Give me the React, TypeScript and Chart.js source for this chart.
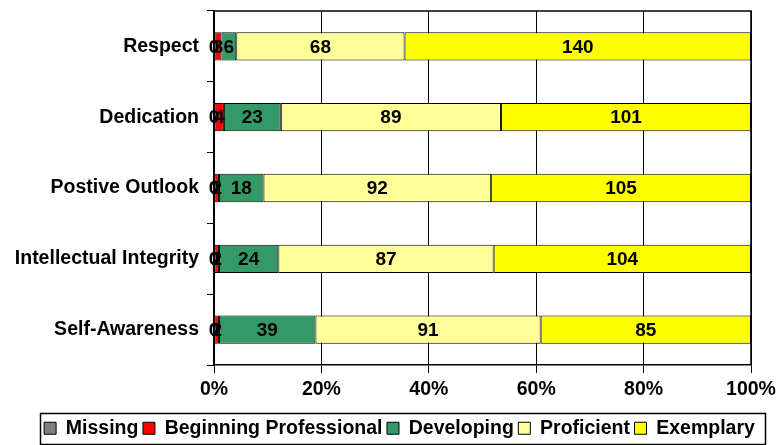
import React, { useEffect, useRef } from "react";
import { Chart, registerables } from "chart.js";

Chart.register(...registerables);

const categories = ["Respect", "Dedication", "Postive Outlook", "Intellectual Integrity", "Self-Awareness"];
const seriesNames = ["Missing", "Beginning Professional", "Developing", "Proficient", "Exemplary"];
const missing = [0, 0, 0, 0, 0];
const beginning = [3, 4, 2, 2, 2];
const developing = [6, 23, 18, 24, 39];
const proficient = [68, 89, 92, 87, 91];
const exemplary = [140, 101, 105, 104, 85];
const seriesColors = ["#808080", "#FF0000", "#339966", "#FFFF99", "#FFFF00"];
const xTickStep = 20;
const xMax = 100;

const FONT = "'Liberation Sans', Arial, Helvetica, sans-serif";

const counts = [missing, beginning, developing, proficient, exemplary];
const totals = categories.map((_, j) => counts.reduce((s, arr) => s + arr[j], 0));

const labelPlugin = {
  id: "segLabels",
  afterDatasetsDraw(chart: any) {
    const ctx = chart.ctx;
    ctx.save();
    ctx.font = `bold 19px ${FONT}`;
    ctx.fillStyle = "#000";
    ctx.textAlign = "center";
    ctx.textBaseline = "middle";
    counts.forEach((arr, i) => {
      const meta = chart.getDatasetMeta(i);
      meta.data.forEach((el: any, j: number) => {
        const p = el.getProps(["x", "base", "y"], true);
        ctx.fillText(String(arr[j]), (p.x + p.base) / 2, p.y + 1);
      });
    });
    ctx.restore();
  },
};

const framePlugin = {
  id: "frames",
  afterLayout(chart: any) {
    const lg = chart.legend;
    if (lg) {
      lg.left += 24;
      lg.right += 24;
      lg.top += 3;
      lg.bottom += 3;
    }
  },
  afterDraw(chart: any) {
    const ctx = chart.ctx;
    const a = chart.chartArea;
    ctx.save();
    ctx.strokeStyle = "#000";
    ctx.lineWidth = 1.5;
    ctx.beginPath();
    ctx.moveTo(a.left, a.top);
    ctx.lineTo(a.right, a.top);
    ctx.lineTo(a.right, a.bottom);
    ctx.stroke();
    const lg = chart.legend;
    if (lg && lg.legendHitBoxes && lg.legendHitBoxes.length) {
      const hb = lg.legendHitBoxes;
      let l = Infinity, r = -Infinity, t = Infinity, b = -Infinity;
      hb.forEach((h: any) => {
        l = Math.min(l, h.left);
        r = Math.max(r, h.left + h.width);
        t = Math.min(t, h.top);
        b = Math.max(b, h.top + h.height);
      });
      ctx.lineWidth = 1.5;
      ctx.strokeRect(Math.round(l - 4) + 0.5, Math.round(t - 6) + 0.5, Math.round(r - l + 14), Math.round(b - t + 11));
    }
    ctx.restore();
  },
};

export default function App() {
  const ref = useRef<HTMLCanvasElement | null>(null);

  useEffect(() => {
    if (!ref.current) return;
    Chart.defaults.color = "#000";
    Chart.defaults.font.family = FONT;
    const datasets = counts.map((arr, i) => ({
      label: seriesNames[i],
      data: arr.map((v, j) => (v / totals[j]) * 100),
      backgroundColor: seriesColors[i],
      borderColor: "#000",
      borderWidth: 1,
      borderSkipped: false,
      barPercentage: 0.4,
      categoryPercentage: 1,
    }));
    const chart = new Chart(ref.current, {
      type: "bar",
      data: { labels: categories, datasets },
      plugins: [labelPlugin, framePlugin],
      options: {
        indexAxis: "y",
        responsive: false,
        animation: false,
        layout: { padding: { top: 11, right: 31, left: 0, bottom: 0 } },
        plugins: {
          tooltip: { enabled: false },
          legend: {
            display: true,
            position: "bottom",
            labels: {
              font: { size: 19.5, weight: "bold", family: FONT },
              color: "#000",
              boxWidth: 12,
              boxHeight: 12,
              padding: 4.5,
            },
          },
        },
        scales: {
          x: {
            stacked: true,
            min: 0,
            max: xMax,
            afterFit(scale: any) {
              scale.height = 46;
              scale.paddingLeft = 0;
              scale.paddingRight = 0;
            },
            ticks: {
              stepSize: xTickStep,
              padding: 5,
              maxRotation: 0,
              font: { size: 19.5, weight: "bold", family: FONT },
              color: "#000",
              callback: (v: any) => `${v}%`,
            },
            grid: {
              color: "#000",
              lineWidth: 1,
              drawOnChartArea: true,
              drawTicks: true,
              tickLength: 8,
            },
            border: { display: true, color: "#000", width: 1.5 },
          },
          y: {
            stacked: true,
            afterFit(scale: any) {
              scale.width = 214;
              scale.paddingTop = 0;
              scale.paddingBottom = 0;
            },
            ticks: {
              padding: 8,
              font: { size: 19.5, weight: "bold", family: FONT },
              color: "#000",
            },
            grid: {
              offset: true,
              color: "#000",
              lineWidth: 1,
              drawOnChartArea: false,
              drawTicks: true,
              tickLength: 7,
            },
            border: { display: true, color: "#000", width: 2 },
          },
        },
      },
    } as any);
    return () => chart.destroy();
  }, []);

  return (
    <div style={{ position: "absolute", left: 0, top: 0, width: 782, height: 445, background: "#fff" }}>
      <canvas ref={ref} width={782} height={445} style={{ display: "block" }} />
    </div>
  );
}
